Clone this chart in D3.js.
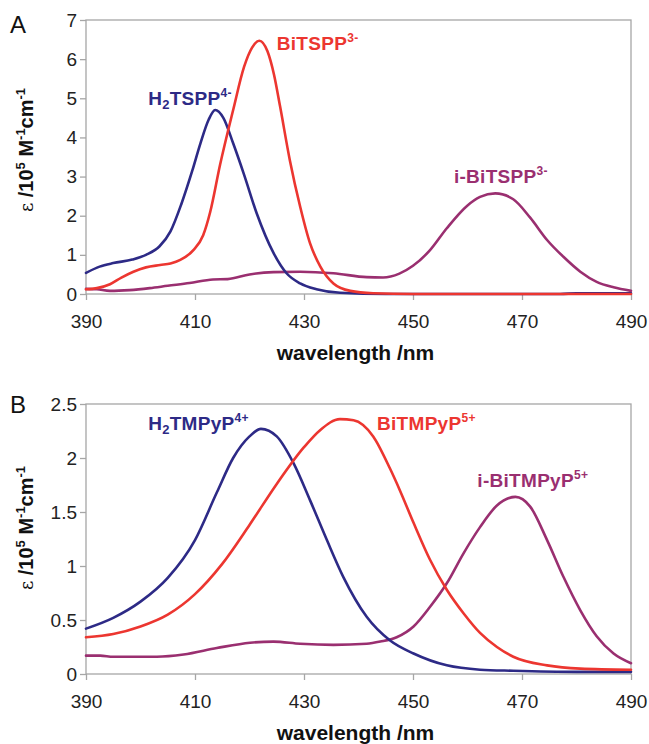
<!DOCTYPE html>
<html>
<head>
<meta charset="utf-8">
<script src="https://cdn.jsdelivr.net/npm/d3@7"></script>
<style>
  html, body { margin: 0; padding: 0; background: #fff; }
  svg { display: block; font-family: "Liberation Sans", Arial, sans-serif; }
</style>
</head>
<body>
<svg id="chart" width="649" height="744"></svg>
<script>
// ---------------- DATA ----------------
const xTicks = [390, 410, 430, 450, 470, 490];
const yTicksA = [0, 1, 2, 3, 4, 5, 6, 7];
const yTicksB = [0, 0.5, 1, 1.5, 2, 2.5];

// Panel A
const wlA_H2TSPP = [390, 392.5, 395, 398.5, 401, 403.5, 405.5, 407.5, 409.5, 411, 412.5, 413.7, 415.2, 417, 419, 421.3, 424.4, 426.8, 429.3, 432.3, 436.6, 445, 477, 480, 490];
const epsA_H2TSPP = [0.54, 0.70, 0.79, 0.88, 1.0, 1.22, 1.6, 2.3, 3.15, 3.85, 4.45, 4.70, 4.50, 3.85, 3.05, 2.07, 1.05, 0.53, 0.27, 0.12, 0.03, 0.0, 0.0, 0.02, 0.02];

const wlA_BiTSPP = [390, 392, 394.4, 396.5, 398.7, 401, 403.6, 405.5, 407.3, 409.7, 411.5, 412.8, 414.6, 417, 419, 420.5, 421.8, 423.3, 424.5, 425.6, 427.4, 429.3, 431.1, 433, 435.4, 438.5, 442.7, 450, 490];
const epsA_BiTSPP = [0.12, 0.15, 0.25, 0.42, 0.57, 0.68, 0.74, 0.78, 0.87, 1.12, 1.50, 2.1, 3.3, 4.7, 5.8, 6.3, 6.47, 6.2, 5.6, 4.8, 3.42, 2.23, 1.30, 0.70, 0.27, 0.08, 0.02, 0.0, 0.0];

const wlA_iBiTSPP = [390, 392, 394.4, 398, 401.7, 405, 409, 413.3, 416, 420, 424.4, 429.3, 435.4, 441.5, 444.5, 447.5, 450, 453, 456.2, 459.9, 462.3, 465.1, 468.4, 471.5, 474.6, 477.6, 480.7, 483.7, 486.8, 490];
const epsA_iBiTSPP = [0.13, 0.12, 0.08, 0.10, 0.15, 0.21, 0.28, 0.37, 0.38, 0.50, 0.56, 0.57, 0.53, 0.43, 0.42, 0.52, 0.72, 1.1, 1.68, 2.25, 2.48, 2.57, 2.42, 1.95, 1.38, 0.95, 0.57, 0.31, 0.17, 0.08];

// Panel B
const wlB_H2TMPyP = [390, 395, 400, 405, 410, 414, 417, 420, 422.1, 425, 428.1, 431.1, 434.2, 437.2, 441.5, 445.8, 450.1, 456.2, 462.3, 468.4, 480, 490];
const epsB_H2TMPyP = [0.42, 0.52, 0.67, 0.89, 1.24, 1.68, 2.0, 2.2, 2.27, 2.20, 1.95, 1.61, 1.24, 0.90, 0.53, 0.31, 0.19, 0.08, 0.04, 0.03, 0.02, 0.02];

const wlB_BiTMPyP = [390, 395, 400, 405, 410, 415, 420, 425, 430, 433, 436.6, 439.1, 442.7, 445.8, 447.6, 450.1, 453.1, 456.2, 459.3, 462.3, 465.4, 468.4, 474.6, 480.7, 490];
const epsB_BiTMPyP = [0.34, 0.37, 0.44, 0.55, 0.74, 1.02, 1.38, 1.76, 2.10, 2.26, 2.36, 2.35, 2.20, 1.90, 1.70, 1.40, 1.06, 0.78, 0.56, 0.38, 0.25, 0.16, 0.08, 0.05, 0.04];

const wlB_iBiTMPyP = [390, 392.6, 395, 398.7, 403, 407.9, 414, 420.1, 424.4, 429.3, 435.4, 441.5, 444, 447, 450.1, 453.1, 456.2, 459.3, 462.3, 465.4, 468.8, 471.5, 474.6, 477.6, 480.7, 483.7, 486.8, 490];
const epsB_iBiTMPyP = [0.17, 0.17, 0.16, 0.16, 0.16, 0.18, 0.24, 0.29, 0.30, 0.28, 0.27, 0.28, 0.30, 0.34, 0.44, 0.62, 0.84, 1.12, 1.36, 1.56, 1.64, 1.55, 1.24, 0.90, 0.59, 0.35, 0.19, 0.10];

const colBlue = "#2d2a86";
const colRed = "#ec3630";
const colPurple = "#9a2f70";

// ---------------- DRAW ----------------
const svg = d3.select("#chart");

function drawPanel(cfg) {
  const g = svg.append("g");
  const x = d3.scaleLinear().domain([390, 490]).range([cfg.left, cfg.right]);
  const y = d3.scaleLinear().domain([0, cfg.yMax]).range([cfg.bottom, cfg.top]);

  // frame
  g.append("rect")
    .attr("x", cfg.left).attr("y", cfg.top)
    .attr("width", cfg.right - cfg.left).attr("height", cfg.bottom - cfg.top)
    .attr("fill", "none").attr("stroke", "#a6a6a6").attr("stroke-width", 1.3);

  // x axis
  const xAx = g.append("g").attr("transform", `translate(0,${cfg.bottom})`)
    .call(d3.axisBottom(x).tickValues(xTicks).tickSize(6).tickPadding(15).tickFormat(d3.format("d")));
  xAx.select(".domain").remove();
  xAx.selectAll(".tick line").attr("stroke", "#a6a6a6").attr("stroke-width", 1.3);
  xAx.selectAll(".tick text").attr("font-size", 19).attr("fill", "#222")
    .attr("font-family", "'Liberation Sans', Arial, sans-serif");

  // y axis
  const yAx = g.append("g").attr("transform", `translate(${cfg.left},0)`)
    .call(d3.axisLeft(y).tickValues(cfg.yTicks).tickSize(6).tickPadding(3).tickFormat(d => String(d)));
  yAx.select(".domain").remove();
  yAx.selectAll(".tick line").attr("stroke", "#a6a6a6").attr("stroke-width", 1.3);
  yAx.selectAll(".tick text").attr("font-size", 19).attr("fill", "#222")
    .attr("font-family", "'Liberation Sans', Arial, sans-serif");

  // lines
  const line = d3.line().x(d => x(d[0])).y(d => y(d[1])).curve(d3.curveMonotoneX);
  cfg.series.forEach(s => {
    const pts = s.wl.map((w, i) => [w, s.eps[i]]);
    g.append("path").datum(pts)
      .attr("d", line).attr("fill", "none")
      .attr("stroke", s.color).attr("stroke-width", 2.6)
      .attr("stroke-linejoin", "round").attr("stroke-linecap", "round");
  });

  // series labels
  cfg.series.forEach(s => {
    const t = g.append("text")
      .attr("x", x(s.lx)).attr("y", y(s.ly))
      .attr("fill", s.color).attr("font-weight", "bold").attr("font-size", 19)
      .attr("letter-spacing", 0.3);
    s.parts.forEach(p => {
      const ts = t.append("tspan").text(p.t);
      if (p.sub) ts.attr("font-size", 13).attr("dy", 4);
      else if (p.sup) ts.attr("font-size", 12).attr("dy", -8);
      else if (p.back) ts.attr("dy", -4);
    });
  });

  // panel letter
  g.append("text").attr("x", 10).attr("y", cfg.top + cfg.letterDy)
    .attr("font-size", 24).attr("fill", "#111").text(cfg.letter);

  // x title
  g.append("text").attr("x", (cfg.left + cfg.right) / 2 - 3).attr("y", cfg.bottom + 66)
    .attr("text-anchor", "middle").attr("font-weight", "bold").attr("font-size", 21)
    .attr("fill", "#111").text("wavelength /nm");

  // y title
  const yt = g.append("text")
    .attr("transform", `translate(33,${cfg.yTitleY}) rotate(-90)`)
    .attr("text-anchor", "middle").attr("font-size", 20).attr("fill", "#111");
  yt.append("tspan").attr("font-family", "'DejaVu Serif', serif").attr("font-size", 18).text("ε");
  yt.append("tspan").attr("font-weight", "bold").text(" /10");
  yt.append("tspan").attr("font-weight", "bold").attr("font-size", 13).attr("dy", -8).text("5");
  yt.append("tspan").attr("font-weight", "bold").attr("dy", 8).text(" M");
  yt.append("tspan").attr("font-weight", "bold").attr("font-size", 13).attr("dy", -8).text("-1");
  yt.append("tspan").attr("font-weight", "bold").attr("dy", 8).text("cm");
  yt.append("tspan").attr("font-weight", "bold").attr("font-size", 13).attr("dy", -8).text("-1");
}

drawPanel({
  left: 86, right: 631, top: 20, bottom: 294, yMax: 7, yTicks: yTicksA,
  letter: "A", letterDy: 13, yTitleY: 150,
  series: [
    { wl: wlA_iBiTSPP, eps: epsA_iBiTSPP, color: colPurple, lx: 457.5, ly: 2.84,
      parts: [{t: "i-BiTSPP"}, {t: "3-", sup: true}] },
    { wl: wlA_H2TSPP, eps: epsA_H2TSPP, color: colBlue, lx: 401.4, ly: 4.83,
      parts: [{t: "H"}, {t: "2", sub: true}, {t: "TSPP", back: true}, {t: "4-", sup: true}] },
    { wl: wlA_BiTSPP, eps: epsA_BiTSPP, color: colRed, lx: 425.0, ly: 6.23,
      parts: [{t: "BiTSPP"}, {t: "3-", sup: true}] }
  ]
});

drawPanel({
  left: 86, right: 631, top: 404, bottom: 674, yMax: 2.5, yTicks: yTicksB,
  letter: "B", letterDy: 9, yTitleY: 528,
  series: [
    { wl: wlB_iBiTMPyP, eps: epsB_iBiTMPyP, color: colPurple, lx: 461.8, ly: 1.73,
      parts: [{t: "i-BiTMPyP"}, {t: "5+", sup: true}] },
    { wl: wlB_H2TMPyP, eps: epsB_H2TMPyP, color: colBlue, lx: 401.4, ly: 2.26,
      parts: [{t: "H"}, {t: "2", sub: true}, {t: "TMPyP", back: true}, {t: "4+", sup: true}] },
    { wl: wlB_BiTMPyP, eps: epsB_BiTMPyP, color: colRed, lx: 443.4, ly: 2.26,
      parts: [{t: "BiTMPyP"}, {t: "5+", sup: true}] }
  ]
});
</script>
</body>
</html>
